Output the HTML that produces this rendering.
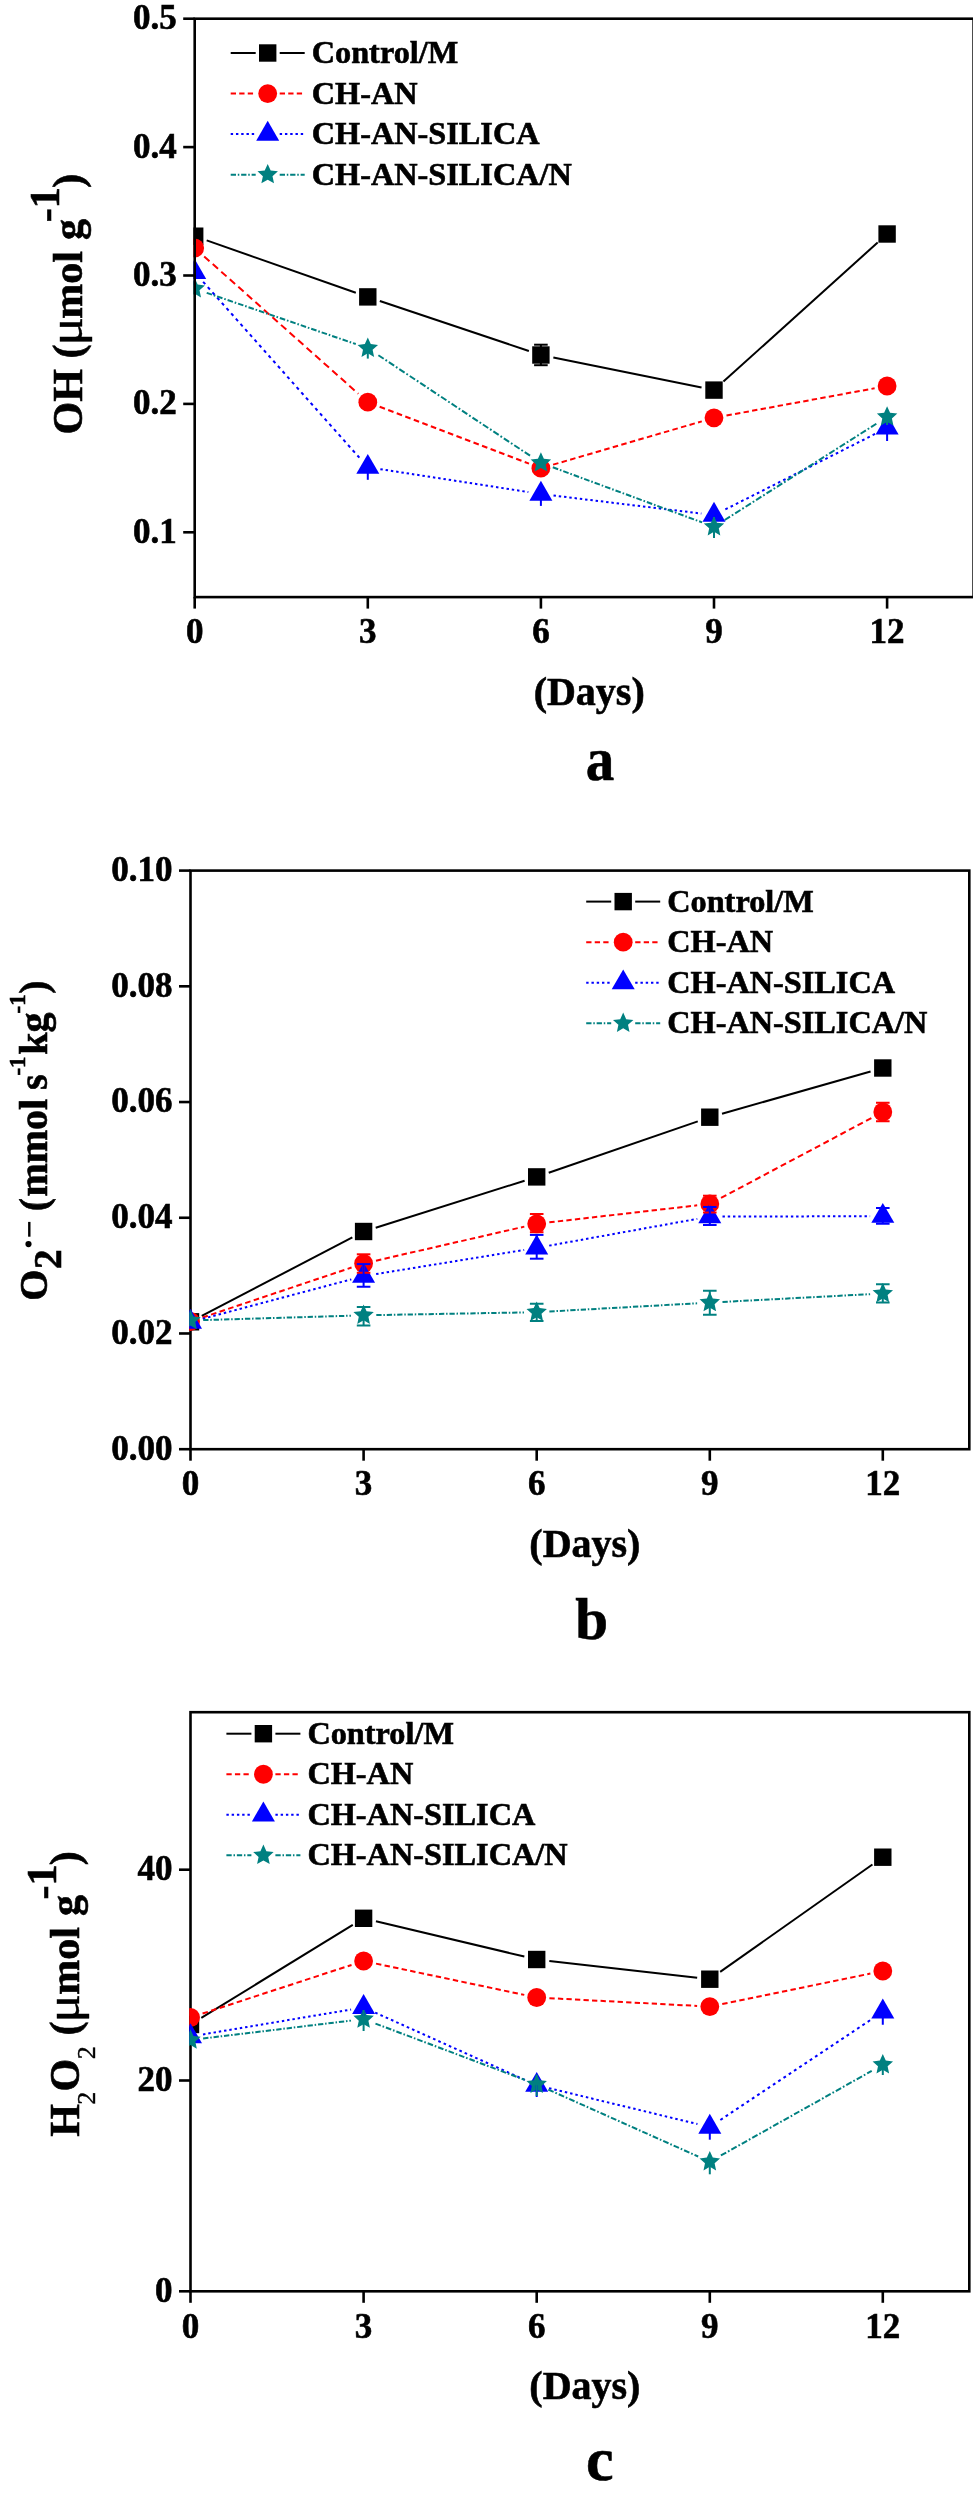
<!DOCTYPE html><html><head><meta charset="utf-8"><style>html,body{margin:0;padding:0;background:#fff;width:973px;height:2499px;overflow:hidden} text[font-weight=bold],g[font-weight=bold] text{stroke:#000;stroke-width:0.6px} text[font-weight=normal]{stroke:#000;stroke-width:0.4px}</style></head><body><svg width="973" height="2499" viewBox="0 0 973 2499" style="display:block;will-change:transform"><rect width="973" height="2499" fill="#fff"/><clipPath id="clipa"><rect x="193.39999999999998" y="17.4" width="781.5000000000001" height="581.0"/></clipPath><g clip-path="url(#clipa)"><line x1="206.68" y1="240.40" x2="355.82" y2="292.70" stroke="#000" stroke-width="2.0"/><line x1="379.84" y1="300.94" x2="528.86" y2="350.96" stroke="#000" stroke-width="2.0"/><line x1="553.35" y1="357.52" x2="701.55" y2="387.58" stroke="#000" stroke-width="2.0"/><line x1="723.43" y1="381.59" x2="877.67" y2="242.51" stroke="#000" stroke-width="2.0"/><line x1="204.18" y1="256.45" x2="358.32" y2="393.75" stroke="#ff0000" stroke-width="2.0" stroke-dasharray="7.10 4.33"/><line x1="379.67" y1="406.72" x2="529.03" y2="463.68" stroke="#ff0000" stroke-width="2.0" stroke-dasharray="5.67 3.46"/><line x1="553.09" y1="464.65" x2="701.81" y2="421.35" stroke="#ff0000" stroke-width="2.0" stroke-dasharray="5.52 3.36"/><line x1="726.49" y1="415.51" x2="874.61" y2="388.29" stroke="#ff0000" stroke-width="2.0" stroke-dasharray="5.39 3.28"/><line x1="203.13" y1="281.80" x2="359.37" y2="457.70" stroke="#0000ff" stroke-width="2.0" stroke-dasharray="3.21 3.83"/><line x1="380.35" y1="469.14" x2="528.35" y2="492.06" stroke="#0000ff" stroke-width="2.0" stroke-dasharray="2.43 2.89"/><line x1="553.51" y1="495.54" x2="701.39" y2="513.56" stroke="#0000ff" stroke-width="2.0" stroke-dasharray="2.42 2.88"/><line x1="725.34" y1="509.39" x2="875.76" y2="433.61" stroke="#0000ff" stroke-width="2.0" stroke-dasharray="2.69 3.20"/><line x1="206.71" y1="292.83" x2="355.79" y2="344.07" stroke="#008080" stroke-width="2.0" stroke-dasharray="5.60 1.90 1.59 1.96"/><line x1="378.39" y1="355.22" x2="530.31" y2="455.88" stroke="#008080" stroke-width="2.0" stroke-dasharray="6.36 2.16 1.80 2.22"/><line x1="552.81" y1="467.30" x2="702.09" y2="522.40" stroke="#008080" stroke-width="2.0" stroke-dasharray="5.65 1.92 1.60 1.97"/><line x1="724.72" y1="519.99" x2="876.38" y2="423.71" stroke="#008080" stroke-width="2.0" stroke-dasharray="6.28 2.13 1.78 2.19"/><rect x="186.00" y="227.50" width="17.4" height="17.4" fill="#000"/><rect x="359.10" y="288.20" width="17.4" height="17.4" fill="#000"/><rect x="532.20" y="346.30" width="17.4" height="17.4" fill="#000"/><rect x="705.30" y="381.40" width="17.4" height="17.4" fill="#000"/><rect x="878.40" y="225.30" width="17.4" height="17.4" fill="#000"/><circle cx="194.70" cy="248.00" r="9.4" fill="#ff0000"/><circle cx="367.80" cy="402.20" r="9.4" fill="#ff0000"/><circle cx="540.90" cy="468.20" r="9.4" fill="#ff0000"/><circle cx="714.00" cy="417.80" r="9.4" fill="#ff0000"/><circle cx="887.10" cy="386.00" r="9.4" fill="#ff0000"/><polygon points="194.70,259.02 206.20,278.94 183.20,278.94" fill="#0000ff"/><polygon points="367.80,453.92 379.30,473.84 356.30,473.84" fill="#0000ff"/><polygon points="540.90,480.72 552.40,500.64 529.40,500.64" fill="#0000ff"/><polygon points="714.00,501.82 725.50,521.74 702.50,521.74" fill="#0000ff"/><polygon points="887.10,414.62 898.60,434.54 875.60,434.54" fill="#0000ff"/><polygon points="194.70,277.95 197.67,284.61 204.92,285.38 199.51,290.26 201.02,297.40 194.70,293.75 188.38,297.40 189.89,290.26 184.48,285.38 191.73,284.61" fill="#008080"/><polygon points="367.80,337.45 370.77,344.11 378.02,344.88 372.61,349.76 374.12,356.90 367.80,353.25 361.48,356.90 362.99,349.76 357.58,344.88 364.83,344.11" fill="#008080"/><polygon points="540.90,452.15 543.87,458.81 551.12,459.58 545.71,464.46 547.22,471.60 540.90,467.95 534.58,471.60 536.09,464.46 530.68,459.58 537.93,458.81" fill="#008080"/><polygon points="714.00,516.05 716.97,522.71 724.22,523.48 718.81,528.36 720.32,535.50 714.00,531.85 707.68,535.50 709.19,528.36 703.78,523.48 711.03,522.71" fill="#008080"/><polygon points="887.10,406.15 890.07,412.81 897.32,413.58 891.91,418.46 893.42,425.60 887.10,421.95 880.78,425.60 882.29,418.46 876.88,413.58 884.13,412.81" fill="#008080"/><line x1="540.9" y1="344.7" x2="540.9" y2="365.2" stroke="#000" stroke-width="2"/><line x1="534.1" y1="344.7" x2="547.6999999999999" y2="344.7" stroke="#000" stroke-width="2"/><line x1="534.1" y1="365.2" x2="547.6999999999999" y2="365.2" stroke="#000" stroke-width="2"/><line x1="367.8" y1="467.2" x2="367.8" y2="479.8" stroke="#0000ff" stroke-width="2"/><line x1="540.9" y1="494" x2="540.9" y2="505.9" stroke="#0000ff" stroke-width="2"/><line x1="714.0" y1="515.1" x2="714.0" y2="527" stroke="#0000ff" stroke-width="2"/><line x1="887.1" y1="427.9" x2="887.1" y2="441" stroke="#0000ff" stroke-width="2"/><line x1="194.7" y1="272.3" x2="194.7" y2="285" stroke="#0000ff" stroke-width="2"/><line x1="367.8" y1="348.2" x2="367.8" y2="358.6" stroke="#008080" stroke-width="2"/><line x1="714.0" y1="517" x2="714.0" y2="538" stroke="#008080" stroke-width="2"/><line x1="887.1" y1="410" x2="887.1" y2="425" stroke="#008080" stroke-width="2"/></g><g stroke="#000" stroke-width="2.6" fill="none"><rect x="194.7" y="18.7" width="778.9000000000001" height="578.4"/><line x1="194.7" y1="597.1" x2="194.7" y2="608.6"/><line x1="367.8" y1="597.1" x2="367.8" y2="608.6"/><line x1="540.9" y1="597.1" x2="540.9" y2="608.6"/><line x1="714.0" y1="597.1" x2="714.0" y2="608.6"/><line x1="887.1" y1="597.1" x2="887.1" y2="608.6"/><line x1="183.2" y1="532.3000000000001" x2="194.7" y2="532.3000000000001"/><line x1="183.2" y1="403.8999999999999" x2="194.7" y2="403.8999999999999"/><line x1="183.2" y1="275.5" x2="194.7" y2="275.5"/><line x1="183.2" y1="147.09999999999997" x2="194.7" y2="147.09999999999997"/><line x1="183.2" y1="18.7" x2="194.7" y2="18.7"/></g><g font-family="'Liberation Serif', serif" font-weight="bold" font-size="35" fill="#000"><text x="194.7" y="643" text-anchor="middle">0</text><text x="367.8" y="643" text-anchor="middle">3</text><text x="540.9" y="643" text-anchor="middle">6</text><text x="714.0" y="643" text-anchor="middle">9</text><text x="887.1" y="643" text-anchor="middle">12</text><text x="176.7" y="542.7" text-anchor="end">0.1</text><text x="176.7" y="414.2999999999999" text-anchor="end">0.2</text><text x="176.7" y="285.9" text-anchor="end">0.3</text><text x="176.7" y="157.49999999999997" text-anchor="end">0.4</text><text x="176.7" y="29.1" text-anchor="end">0.5</text></g><text x="589.2" y="705" text-anchor="middle" font-family="'Liberation Serif', serif" font-weight="bold" font-size="40">(Days)</text><text transform="translate(600.1,779.5) scale(0.92,1)" text-anchor="middle" font-family="'Liberation Serif', serif" font-weight="bold" font-size="62">a</text><line x1="230.7" y1="53.0" x2="255.7" y2="53.0" stroke="#000" stroke-width="2.0"/><line x1="279.7" y1="53.0" x2="304.7" y2="53.0" stroke="#000" stroke-width="2.0"/><rect x="259.00" y="44.30" width="17.4" height="17.4" fill="#000"/><text x="311.7" y="63.0" font-family="'Liberation Serif', serif" font-weight="bold" font-size="32.3">Control/M</text><line x1="230.7" y1="93.55" x2="255.7" y2="93.55" stroke="#ff0000" stroke-width="2.0" stroke-dasharray="5.3 3.23"/><line x1="279.7" y1="93.55" x2="304.7" y2="93.55" stroke="#ff0000" stroke-width="2.0" stroke-dasharray="5.3 3.23"/><circle cx="267.70" cy="93.55" r="9.4" fill="#ff0000"/><text x="311.7" y="103.55" font-family="'Liberation Serif', serif" font-weight="bold" font-size="32.3">CH-AN</text><line x1="230.7" y1="134.1" x2="255.7" y2="134.1" stroke="#0000ff" stroke-width="2.0" stroke-dasharray="2.4 2.86"/><line x1="279.7" y1="134.1" x2="304.7" y2="134.1" stroke="#0000ff" stroke-width="2.0" stroke-dasharray="2.4 2.86"/><polygon points="267.70,120.82 279.20,140.74 256.20,140.74" fill="#0000ff"/><text x="311.7" y="144.1" font-family="'Liberation Serif', serif" font-weight="bold" font-size="32.3">CH-AN-SILICA</text><line x1="230.7" y1="174.64999999999998" x2="255.7" y2="174.64999999999998" stroke="#008080" stroke-width="2.0" stroke-dasharray="5.3 1.8 1.5 1.85"/><line x1="279.7" y1="174.64999999999998" x2="304.7" y2="174.64999999999998" stroke="#008080" stroke-width="2.0" stroke-dasharray="5.3 1.8 1.5 1.85"/><polygon points="267.70,163.90 270.67,170.56 277.92,171.33 272.51,176.21 274.02,183.35 267.70,179.70 261.38,183.35 262.89,176.21 257.48,171.33 264.73,170.56" fill="#008080"/><text x="311.7" y="184.64999999999998" font-family="'Liberation Serif', serif" font-weight="bold" font-size="32.3">CH-AN-SILICA/N</text><clipPath id="clipb"><rect x="189.2" y="869.3000000000001" width="781.4" height="581.2"/></clipPath><g stroke="#000" stroke-width="2.6" fill="none"><rect x="190.5" y="870.6" width="778.8" height="578.6"/><line x1="190.5" y1="1449.2" x2="190.5" y2="1460.7"/><line x1="363.6" y1="1449.2" x2="363.6" y2="1460.7"/><line x1="536.7" y1="1449.2" x2="536.7" y2="1460.7"/><line x1="709.8" y1="1449.2" x2="709.8" y2="1460.7"/><line x1="882.8" y1="1449.2" x2="882.8" y2="1460.7"/><line x1="179.0" y1="1449.2" x2="190.5" y2="1449.2"/><line x1="179.0" y1="1333.48" x2="190.5" y2="1333.48"/><line x1="179.0" y1="1217.76" x2="190.5" y2="1217.76"/><line x1="179.0" y1="1102.04" x2="190.5" y2="1102.04"/><line x1="179.0" y1="986.32" x2="190.5" y2="986.32"/><line x1="179.0" y1="870.6" x2="190.5" y2="870.6"/></g><g clip-path="url(#clipb)"><line x1="201.76" y1="1315.93" x2="352.34" y2="1237.37" stroke="#000" stroke-width="2.0"/><line x1="375.71" y1="1227.68" x2="524.59" y2="1180.72" stroke="#000" stroke-width="2.0"/><line x1="548.71" y1="1172.76" x2="697.79" y2="1121.34" stroke="#000" stroke-width="2.0"/><line x1="722.02" y1="1113.73" x2="870.58" y2="1071.47" stroke="#000" stroke-width="2.0"/><line x1="202.54" y1="1317.47" x2="351.56" y2="1267.53" stroke="#ff0000" stroke-width="2.0" stroke-dasharray="5.59 3.41"/><line x1="375.98" y1="1260.66" x2="524.32" y2="1226.64" stroke="#ff0000" stroke-width="2.0" stroke-dasharray="5.44 3.31"/><line x1="549.32" y1="1222.35" x2="697.18" y2="1205.35" stroke="#ff0000" stroke-width="2.0" stroke-dasharray="5.33 3.25"/><line x1="721.02" y1="1197.94" x2="871.58" y2="1117.96" stroke="#ff0000" stroke-width="2.0" stroke-dasharray="6.00 3.66"/><line x1="202.78" y1="1318.74" x2="351.32" y2="1279.36" stroke="#0000ff" stroke-width="2.0" stroke-dasharray="2.48 2.96"/><line x1="376.13" y1="1274.06" x2="524.17" y2="1249.94" stroke="#0000ff" stroke-width="2.0" stroke-dasharray="2.43 2.90"/><line x1="549.20" y1="1245.64" x2="697.30" y2="1218.86" stroke="#0000ff" stroke-width="2.0" stroke-dasharray="2.44 2.91"/><line x1="722.50" y1="1216.57" x2="870.10" y2="1216.23" stroke="#0000ff" stroke-width="2.0" stroke-dasharray="2.40 2.86"/><line x1="203.19" y1="1320.12" x2="350.91" y2="1315.68" stroke="#008080" stroke-width="2.0" stroke-dasharray="5.30 1.80 1.50 1.85"/><line x1="376.30" y1="1315.07" x2="524.00" y2="1312.43" stroke="#008080" stroke-width="2.0" stroke-dasharray="5.30 1.80 1.50 1.85"/><line x1="549.38" y1="1311.50" x2="697.12" y2="1303.30" stroke="#008080" stroke-width="2.0" stroke-dasharray="5.31 1.80 1.50 1.85"/><line x1="722.48" y1="1301.93" x2="870.12" y2="1294.17" stroke="#008080" stroke-width="2.0" stroke-dasharray="5.31 1.80 1.50 1.85"/><rect x="181.80" y="1313.10" width="17.4" height="17.4" fill="#000"/><rect x="354.90" y="1222.80" width="17.4" height="17.4" fill="#000"/><rect x="528.00" y="1168.20" width="17.4" height="17.4" fill="#000"/><rect x="701.10" y="1108.50" width="17.4" height="17.4" fill="#000"/><rect x="874.10" y="1059.30" width="17.4" height="17.4" fill="#000"/><circle cx="190.50" cy="1321.50" r="9.4" fill="#ff0000"/><circle cx="363.60" cy="1263.50" r="9.4" fill="#ff0000"/><circle cx="536.70" cy="1223.80" r="9.4" fill="#ff0000"/><circle cx="709.80" cy="1203.90" r="9.4" fill="#ff0000"/><circle cx="882.80" cy="1112.00" r="9.4" fill="#ff0000"/><polygon points="190.50,1308.72 202.00,1328.64 179.00,1328.64" fill="#0000ff"/><polygon points="363.60,1262.82 375.10,1282.74 352.10,1282.74" fill="#0000ff"/><polygon points="536.70,1234.62 548.20,1254.54 525.20,1254.54" fill="#0000ff"/><polygon points="709.80,1203.32 721.30,1223.24 698.30,1223.24" fill="#0000ff"/><polygon points="882.80,1202.92 894.30,1222.84 871.30,1222.84" fill="#0000ff"/><polygon points="190.50,1309.75 193.47,1316.41 200.72,1317.18 195.31,1322.06 196.82,1329.20 190.50,1325.55 184.18,1329.20 185.69,1322.06 180.28,1317.18 187.53,1316.41" fill="#008080"/><polygon points="363.60,1304.55 366.57,1311.21 373.82,1311.98 368.41,1316.86 369.92,1324.00 363.60,1320.35 357.28,1324.00 358.79,1316.86 353.38,1311.98 360.63,1311.21" fill="#008080"/><polygon points="536.70,1301.45 539.67,1308.11 546.92,1308.88 541.51,1313.76 543.02,1320.90 536.70,1317.25 530.38,1320.90 531.89,1313.76 526.48,1308.88 533.73,1308.11" fill="#008080"/><polygon points="709.80,1291.85 712.77,1298.51 720.02,1299.28 714.61,1304.16 716.12,1311.30 709.80,1307.65 703.48,1311.30 704.99,1304.16 699.58,1299.28 706.83,1298.51" fill="#008080"/><polygon points="882.80,1282.75 885.77,1289.41 893.02,1290.18 887.61,1295.06 889.12,1302.20 882.80,1298.55 876.48,1302.20 877.99,1295.06 872.58,1290.18 879.83,1289.41" fill="#008080"/><line x1="363.6" y1="1254.3" x2="363.6" y2="1272.8" stroke="#ff0000" stroke-width="2"/><line x1="356.8" y1="1254.3" x2="370.40000000000003" y2="1254.3" stroke="#ff0000" stroke-width="2"/><line x1="356.8" y1="1272.8" x2="370.40000000000003" y2="1272.8" stroke="#ff0000" stroke-width="2"/><line x1="536.7" y1="1214" x2="536.7" y2="1232.2" stroke="#ff0000" stroke-width="2"/><line x1="529.9000000000001" y1="1214" x2="543.5" y2="1214" stroke="#ff0000" stroke-width="2"/><line x1="529.9000000000001" y1="1232.2" x2="543.5" y2="1232.2" stroke="#ff0000" stroke-width="2"/><line x1="709.8" y1="1195.7" x2="709.8" y2="1212.5" stroke="#ff0000" stroke-width="2"/><line x1="703.0" y1="1195.7" x2="716.5999999999999" y2="1195.7" stroke="#ff0000" stroke-width="2"/><line x1="703.0" y1="1212.5" x2="716.5999999999999" y2="1212.5" stroke="#ff0000" stroke-width="2"/><line x1="882.8" y1="1102.7" x2="882.8" y2="1121.2" stroke="#ff0000" stroke-width="2"/><line x1="876.0" y1="1102.7" x2="889.5999999999999" y2="1102.7" stroke="#ff0000" stroke-width="2"/><line x1="876.0" y1="1121.2" x2="889.5999999999999" y2="1121.2" stroke="#ff0000" stroke-width="2"/><line x1="363.6" y1="1264.1" x2="363.6" y2="1286.8" stroke="#0000ff" stroke-width="2"/><line x1="356.8" y1="1264.1" x2="370.40000000000003" y2="1264.1" stroke="#0000ff" stroke-width="2"/><line x1="356.8" y1="1286.8" x2="370.40000000000003" y2="1286.8" stroke="#0000ff" stroke-width="2"/><line x1="536.7" y1="1234.9" x2="536.7" y2="1258.7" stroke="#0000ff" stroke-width="2"/><line x1="529.9000000000001" y1="1234.9" x2="543.5" y2="1234.9" stroke="#0000ff" stroke-width="2"/><line x1="529.9000000000001" y1="1258.7" x2="543.5" y2="1258.7" stroke="#0000ff" stroke-width="2"/><line x1="709.8" y1="1207" x2="709.8" y2="1225" stroke="#0000ff" stroke-width="2"/><line x1="703.0" y1="1207" x2="716.5999999999999" y2="1207" stroke="#0000ff" stroke-width="2"/><line x1="703.0" y1="1225" x2="716.5999999999999" y2="1225" stroke="#0000ff" stroke-width="2"/><line x1="882.8" y1="1208" x2="882.8" y2="1223.8" stroke="#0000ff" stroke-width="2"/><line x1="876.0" y1="1208" x2="889.5999999999999" y2="1208" stroke="#0000ff" stroke-width="2"/><line x1="876.0" y1="1223.8" x2="889.5999999999999" y2="1223.8" stroke="#0000ff" stroke-width="2"/><line x1="363.6" y1="1306.9" x2="363.6" y2="1325.5" stroke="#008080" stroke-width="2"/><line x1="356.8" y1="1306.9" x2="370.40000000000003" y2="1306.9" stroke="#008080" stroke-width="2"/><line x1="356.8" y1="1325.5" x2="370.40000000000003" y2="1325.5" stroke="#008080" stroke-width="2"/><line x1="536.7" y1="1303.8" x2="536.7" y2="1321" stroke="#008080" stroke-width="2"/><line x1="529.9000000000001" y1="1303.8" x2="543.5" y2="1303.8" stroke="#008080" stroke-width="2"/><line x1="529.9000000000001" y1="1321" x2="543.5" y2="1321" stroke="#008080" stroke-width="2"/><line x1="709.8" y1="1290.8" x2="709.8" y2="1314.8" stroke="#008080" stroke-width="2"/><line x1="703.0" y1="1290.8" x2="716.5999999999999" y2="1290.8" stroke="#008080" stroke-width="2"/><line x1="703.0" y1="1314.8" x2="716.5999999999999" y2="1314.8" stroke="#008080" stroke-width="2"/><line x1="882.8" y1="1284.3" x2="882.8" y2="1302.5" stroke="#008080" stroke-width="2"/><line x1="876.0" y1="1284.3" x2="889.5999999999999" y2="1284.3" stroke="#008080" stroke-width="2"/><line x1="876.0" y1="1302.5" x2="889.5999999999999" y2="1302.5" stroke="#008080" stroke-width="2"/></g><g font-family="'Liberation Serif', serif" font-weight="bold" font-size="35" fill="#000"><text x="190.5" y="1495" text-anchor="middle">0</text><text x="363.6" y="1495" text-anchor="middle">3</text><text x="536.7" y="1495" text-anchor="middle">6</text><text x="709.8" y="1495" text-anchor="middle">9</text><text x="882.8" y="1495" text-anchor="middle">12</text><text x="172.5" y="1459.6000000000001" text-anchor="end">0.00</text><text x="172.5" y="1343.88" text-anchor="end">0.02</text><text x="172.5" y="1228.16" text-anchor="end">0.04</text><text x="172.5" y="1112.44" text-anchor="end">0.06</text><text x="172.5" y="996.72" text-anchor="end">0.08</text><text x="172.5" y="881.0" text-anchor="end">0.10</text></g><text x="584.9" y="1557" text-anchor="middle" font-family="'Liberation Serif', serif" font-weight="bold" font-size="40">(Days)</text><text transform="translate(591.6,1638.5) scale(1.0,1)" text-anchor="middle" font-family="'Liberation Serif', serif" font-weight="bold" font-size="59">b</text><line x1="586.2" y1="901.6" x2="611.2" y2="901.6" stroke="#000" stroke-width="2.0"/><line x1="635.2" y1="901.6" x2="660.2" y2="901.6" stroke="#000" stroke-width="2.0"/><rect x="614.50" y="892.90" width="17.4" height="17.4" fill="#000"/><text x="667.2" y="911.6" font-family="'Liberation Serif', serif" font-weight="bold" font-size="32.3">Control/M</text><line x1="586.2" y1="942.15" x2="611.2" y2="942.15" stroke="#ff0000" stroke-width="2.0" stroke-dasharray="5.3 3.23"/><line x1="635.2" y1="942.15" x2="660.2" y2="942.15" stroke="#ff0000" stroke-width="2.0" stroke-dasharray="5.3 3.23"/><circle cx="623.20" cy="942.15" r="9.4" fill="#ff0000"/><text x="667.2" y="952.15" font-family="'Liberation Serif', serif" font-weight="bold" font-size="32.3">CH-AN</text><line x1="586.2" y1="982.7" x2="611.2" y2="982.7" stroke="#0000ff" stroke-width="2.0" stroke-dasharray="2.4 2.86"/><line x1="635.2" y1="982.7" x2="660.2" y2="982.7" stroke="#0000ff" stroke-width="2.0" stroke-dasharray="2.4 2.86"/><polygon points="623.20,969.42 634.70,989.34 611.70,989.34" fill="#0000ff"/><text x="667.2" y="992.7" font-family="'Liberation Serif', serif" font-weight="bold" font-size="32.3">CH-AN-SILICA</text><line x1="586.2" y1="1023.25" x2="611.2" y2="1023.25" stroke="#008080" stroke-width="2.0" stroke-dasharray="5.3 1.8 1.5 1.85"/><line x1="635.2" y1="1023.25" x2="660.2" y2="1023.25" stroke="#008080" stroke-width="2.0" stroke-dasharray="5.3 1.8 1.5 1.85"/><polygon points="623.20,1012.50 626.17,1019.16 633.42,1019.93 628.01,1024.81 629.52,1031.95 623.20,1028.30 616.88,1031.95 618.39,1024.81 612.98,1019.93 620.23,1019.16" fill="#008080"/><text x="667.2" y="1033.25" font-family="'Liberation Serif', serif" font-weight="bold" font-size="32.3">CH-AN-SILICA/N</text><clipPath id="clipc"><rect x="189.2" y="1710.9" width="781.4" height="581.7000000000002"/></clipPath><g stroke="#000" stroke-width="2.6" fill="none"><rect x="190.5" y="1712.2" width="778.8" height="579.1000000000001"/><line x1="190.5" y1="2291.3" x2="190.5" y2="2302.8"/><line x1="363.6" y1="2291.3" x2="363.6" y2="2302.8"/><line x1="536.7" y1="2291.3" x2="536.7" y2="2302.8"/><line x1="709.8" y1="2291.3" x2="709.8" y2="2302.8"/><line x1="882.8" y1="2291.3" x2="882.8" y2="2302.8"/><line x1="179.0" y1="2291.3" x2="190.5" y2="2291.3"/><line x1="179.0" y1="2080.5" x2="190.5" y2="2080.5"/><line x1="179.0" y1="1869.7000000000003" x2="190.5" y2="1869.7000000000003"/></g><g clip-path="url(#clipc)"><line x1="201.33" y1="2017.86" x2="352.77" y2="1924.94" stroke="#000" stroke-width="2.0"/><line x1="375.95" y1="1921.24" x2="524.35" y2="1956.56" stroke="#000" stroke-width="2.0"/><line x1="549.32" y1="1960.94" x2="697.18" y2="1977.76" stroke="#000" stroke-width="2.0"/><line x1="720.18" y1="1971.88" x2="872.42" y2="1864.52" stroke="#000" stroke-width="2.0"/><line x1="202.57" y1="2013.56" x2="351.53" y2="1964.94" stroke="#ff0000" stroke-width="2.0" stroke-dasharray="5.58 3.40"/><line x1="376.03" y1="1963.62" x2="524.27" y2="1994.88" stroke="#ff0000" stroke-width="2.0" stroke-dasharray="5.42 3.30"/><line x1="549.38" y1="1998.17" x2="697.12" y2="2005.93" stroke="#ff0000" stroke-width="2.0" stroke-dasharray="5.31 3.23"/><line x1="722.24" y1="2004.04" x2="870.36" y2="1973.56" stroke="#ff0000" stroke-width="2.0" stroke-dasharray="5.41 3.30"/><line x1="203.02" y1="2034.39" x2="351.08" y2="2009.51" stroke="#0000ff" stroke-width="2.0" stroke-dasharray="2.43 2.90"/><line x1="375.18" y1="2012.61" x2="525.12" y2="2079.99" stroke="#0000ff" stroke-width="2.0" stroke-dasharray="2.63 3.14"/><line x1="549.05" y1="2088.18" x2="697.45" y2="2124.02" stroke="#0000ff" stroke-width="2.0" stroke-dasharray="2.47 2.94"/><line x1="720.37" y1="2119.96" x2="872.23" y2="2018.84" stroke="#0000ff" stroke-width="2.0" stroke-dasharray="2.88 3.44"/><line x1="203.11" y1="2038.48" x2="350.99" y2="2020.62" stroke="#008080" stroke-width="2.0" stroke-dasharray="5.34 1.81 1.51 1.86"/><line x1="375.48" y1="2023.58" x2="524.82" y2="2079.92" stroke="#008080" stroke-width="2.0" stroke-dasharray="5.66 1.92 1.60 1.98"/><line x1="548.30" y1="2089.58" x2="698.20" y2="2156.52" stroke="#008080" stroke-width="2.0" stroke-dasharray="5.80 1.97 1.64 2.03"/><line x1="720.88" y1="2155.49" x2="871.72" y2="2070.91" stroke="#008080" stroke-width="2.0" stroke-dasharray="6.08 2.06 1.72 2.12"/><rect x="181.80" y="2015.80" width="17.4" height="17.4" fill="#000"/><rect x="354.90" y="1909.60" width="17.4" height="17.4" fill="#000"/><rect x="528.00" y="1950.80" width="17.4" height="17.4" fill="#000"/><rect x="701.10" y="1970.50" width="17.4" height="17.4" fill="#000"/><rect x="874.10" y="1848.50" width="17.4" height="17.4" fill="#000"/><circle cx="190.50" cy="2017.50" r="9.4" fill="#ff0000"/><circle cx="363.60" cy="1961.00" r="9.4" fill="#ff0000"/><circle cx="536.70" cy="1997.50" r="9.4" fill="#ff0000"/><circle cx="709.80" cy="2006.60" r="9.4" fill="#ff0000"/><circle cx="882.80" cy="1971.00" r="9.4" fill="#ff0000"/><polygon points="190.50,2023.22 202.00,2043.14 179.00,2043.14" fill="#0000ff"/><polygon points="363.60,1994.12 375.10,2014.04 352.10,2014.04" fill="#0000ff"/><polygon points="536.70,2071.92 548.20,2091.84 525.20,2091.84" fill="#0000ff"/><polygon points="709.80,2113.72 721.30,2133.64 698.30,2133.64" fill="#0000ff"/><polygon points="882.80,1998.52 894.30,2018.44 871.30,2018.44" fill="#0000ff"/><polygon points="190.50,2029.25 193.47,2035.91 200.72,2036.68 195.31,2041.56 196.82,2048.70 190.50,2045.05 184.18,2048.70 185.69,2041.56 180.28,2036.68 187.53,2035.91" fill="#008080"/><polygon points="363.60,2008.35 366.57,2015.01 373.82,2015.78 368.41,2020.66 369.92,2027.80 363.60,2024.15 357.28,2027.80 358.79,2020.66 353.38,2015.78 360.63,2015.01" fill="#008080"/><polygon points="536.70,2073.65 539.67,2080.31 546.92,2081.08 541.51,2085.96 543.02,2093.10 536.70,2089.45 530.38,2093.10 531.89,2085.96 526.48,2081.08 533.73,2080.31" fill="#008080"/><polygon points="709.80,2150.95 712.77,2157.61 720.02,2158.38 714.61,2163.26 716.12,2170.40 709.80,2166.75 703.48,2170.40 704.99,2163.26 699.58,2158.38 706.83,2157.61" fill="#008080"/><polygon points="882.80,2053.95 885.77,2060.61 893.02,2061.38 887.61,2066.26 889.12,2073.40 882.80,2069.75 876.48,2073.40 877.99,2066.26 872.58,2061.38 879.83,2060.61" fill="#008080"/><line x1="363.6" y1="2007.4" x2="363.6" y2="2016" stroke="#0000ff" stroke-width="2"/><line x1="536.7" y1="2085.2" x2="536.7" y2="2097" stroke="#0000ff" stroke-width="2"/><line x1="709.8" y1="2127" x2="709.8" y2="2139.7" stroke="#0000ff" stroke-width="2"/><line x1="882.8" y1="2011.8" x2="882.8" y2="2024.7" stroke="#0000ff" stroke-width="2"/><line x1="363.6" y1="2010" x2="363.6" y2="2031" stroke="#008080" stroke-width="2"/><line x1="536.7" y1="2075" x2="536.7" y2="2096" stroke="#008080" stroke-width="2"/><line x1="709.8" y1="2161.7" x2="709.8" y2="2174.3" stroke="#008080" stroke-width="2"/><line x1="882.8" y1="2064.7" x2="882.8" y2="2075.1" stroke="#008080" stroke-width="2"/></g><g font-family="'Liberation Serif', serif" font-weight="bold" font-size="35" fill="#000"><text x="190.5" y="2337.5" text-anchor="middle">0</text><text x="363.6" y="2337.5" text-anchor="middle">3</text><text x="536.7" y="2337.5" text-anchor="middle">6</text><text x="709.8" y="2337.5" text-anchor="middle">9</text><text x="882.8" y="2337.5" text-anchor="middle">12</text><text x="172.5" y="2301.7000000000003" text-anchor="end">0</text><text x="172.5" y="2090.9" text-anchor="end">20</text><text x="172.5" y="1880.1000000000004" text-anchor="end">40</text></g><text x="584.9" y="2398.8" text-anchor="middle" font-family="'Liberation Serif', serif" font-weight="bold" font-size="40">(Days)</text><text transform="translate(599.7,2480) scale(1.0,1)" text-anchor="middle" font-family="'Liberation Serif', serif" font-weight="bold" font-size="62">c</text><line x1="226.4" y1="1733.7" x2="251.4" y2="1733.7" stroke="#000" stroke-width="2.0"/><line x1="275.4" y1="1733.7" x2="300.4" y2="1733.7" stroke="#000" stroke-width="2.0"/><rect x="254.70" y="1725.00" width="17.4" height="17.4" fill="#000"/><text x="307.4" y="1743.7" font-family="'Liberation Serif', serif" font-weight="bold" font-size="32.3">Control/M</text><line x1="226.4" y1="1774.25" x2="251.4" y2="1774.25" stroke="#ff0000" stroke-width="2.0" stroke-dasharray="5.3 3.23"/><line x1="275.4" y1="1774.25" x2="300.4" y2="1774.25" stroke="#ff0000" stroke-width="2.0" stroke-dasharray="5.3 3.23"/><circle cx="263.40" cy="1774.25" r="9.4" fill="#ff0000"/><text x="307.4" y="1784.25" font-family="'Liberation Serif', serif" font-weight="bold" font-size="32.3">CH-AN</text><line x1="226.4" y1="1814.8" x2="251.4" y2="1814.8" stroke="#0000ff" stroke-width="2.0" stroke-dasharray="2.4 2.86"/><line x1="275.4" y1="1814.8" x2="300.4" y2="1814.8" stroke="#0000ff" stroke-width="2.0" stroke-dasharray="2.4 2.86"/><polygon points="263.40,1801.52 274.90,1821.44 251.90,1821.44" fill="#0000ff"/><text x="307.4" y="1824.8" font-family="'Liberation Serif', serif" font-weight="bold" font-size="32.3">CH-AN-SILICA</text><line x1="226.4" y1="1855.3500000000001" x2="251.4" y2="1855.3500000000001" stroke="#008080" stroke-width="2.0" stroke-dasharray="5.3 1.8 1.5 1.85"/><line x1="275.4" y1="1855.3500000000001" x2="300.4" y2="1855.3500000000001" stroke="#008080" stroke-width="2.0" stroke-dasharray="5.3 1.8 1.5 1.85"/><polygon points="263.40,1844.60 266.37,1851.26 273.62,1852.03 268.21,1856.91 269.72,1864.05 263.40,1860.40 257.08,1864.05 258.59,1856.91 253.18,1852.03 260.43,1851.26" fill="#008080"/><text x="307.4" y="1865.3500000000001" font-family="'Liberation Serif', serif" font-weight="bold" font-size="32.3">CH-AN-SILICA/N</text><text transform="translate(82,434.50) rotate(-90)" font-family="'Liberation Serif', serif" font-weight="bold" font-size="42">OH</text><text transform="translate(82,358.45) rotate(-90)" font-family="'Liberation Serif', serif" font-weight="bold" font-size="42">(</text><text transform="translate(82,345.40) rotate(-90) scale(1.1,1)" font-family="'Liberation Serif', serif" font-weight="normal" font-size="48">μ</text><text transform="translate(82,318.75) rotate(-90)" font-family="'Liberation Serif', serif" font-weight="bold" font-size="42">mol</text><text transform="translate(82,239.95) rotate(-90)" font-family="'Liberation Serif', serif" font-weight="bold" font-size="42">g</text><text transform="translate(58.8,222.30) rotate(-90)" font-family="'Liberation Serif', serif" font-weight="bold" font-size="42">-1</text><text transform="translate(82,187.85) rotate(-90)" font-family="'Liberation Serif', serif" font-weight="bold" font-size="42">)</text><text transform="translate(47,1300.70) rotate(-90)" font-family="'Liberation Serif', serif" font-weight="bold" font-size="40">O</text><text transform="translate(61.2,1269.25) rotate(-90)" font-family="'Liberation Serif', serif" font-weight="bold" font-size="40">2</text><text transform="translate(47,1211.35) rotate(-90)" font-family="'Liberation Serif', serif" font-weight="bold" font-size="40">(</text><text transform="translate(47,1196.60) rotate(-90)" font-family="'Liberation Serif', serif" font-weight="bold" font-size="40">mmol</text><text transform="translate(47,1089.95) rotate(-90)" font-family="'Liberation Serif', serif" font-weight="bold" font-size="40">s</text><text transform="translate(24.8,1075.55) rotate(-90)" font-family="'Liberation Serif', serif" font-weight="bold" font-size="23">-1</text><text transform="translate(47,1054.70) rotate(-90)" font-family="'Liberation Serif', serif" font-weight="bold" font-size="40">kg</text><text transform="translate(24.8,1013.45) rotate(-90)" font-family="'Liberation Serif', serif" font-weight="bold" font-size="23">-1</text><text transform="translate(47,993.85) rotate(-90)" font-family="'Liberation Serif', serif" font-weight="bold" font-size="40">)</text><text transform="translate(79,2136.85) rotate(-90)" font-family="'Liberation Serif', serif" font-weight="bold" font-size="42">H</text><text transform="translate(95.2,2104.65) rotate(-90)" font-family="'Liberation Serif', serif" font-weight="normal" font-size="26">2</text><text transform="translate(79,2091.60) rotate(-90)" font-family="'Liberation Serif', serif" font-weight="bold" font-size="42">O</text><text transform="translate(95.2,2059.35) rotate(-90)" font-family="'Liberation Serif', serif" font-weight="normal" font-size="26">2</text><text transform="translate(79,2035.55) rotate(-90)" font-family="'Liberation Serif', serif" font-weight="bold" font-size="42">(</text><text transform="translate(79,2022.50) rotate(-90) scale(1.1,1)" font-family="'Liberation Serif', serif" font-weight="normal" font-size="48">μ</text><text transform="translate(79,1994.85) rotate(-90)" font-family="'Liberation Serif', serif" font-weight="bold" font-size="42">mol</text><text transform="translate(79,1916.05) rotate(-90)" font-family="'Liberation Serif', serif" font-weight="bold" font-size="42">g</text><text transform="translate(55.9,1899.40) rotate(-90)" font-family="'Liberation Serif', serif" font-weight="bold" font-size="42">-1</text><text transform="translate(79,1865.35) rotate(-90)" font-family="'Liberation Serif', serif" font-weight="bold" font-size="42">)</text><circle cx="28.5" cy="1244.1" r="3.1" fill="#000"/><rect x="28.1" y="1221.9" width="2.4" height="14.8" fill="#000"/></svg></body></html>
